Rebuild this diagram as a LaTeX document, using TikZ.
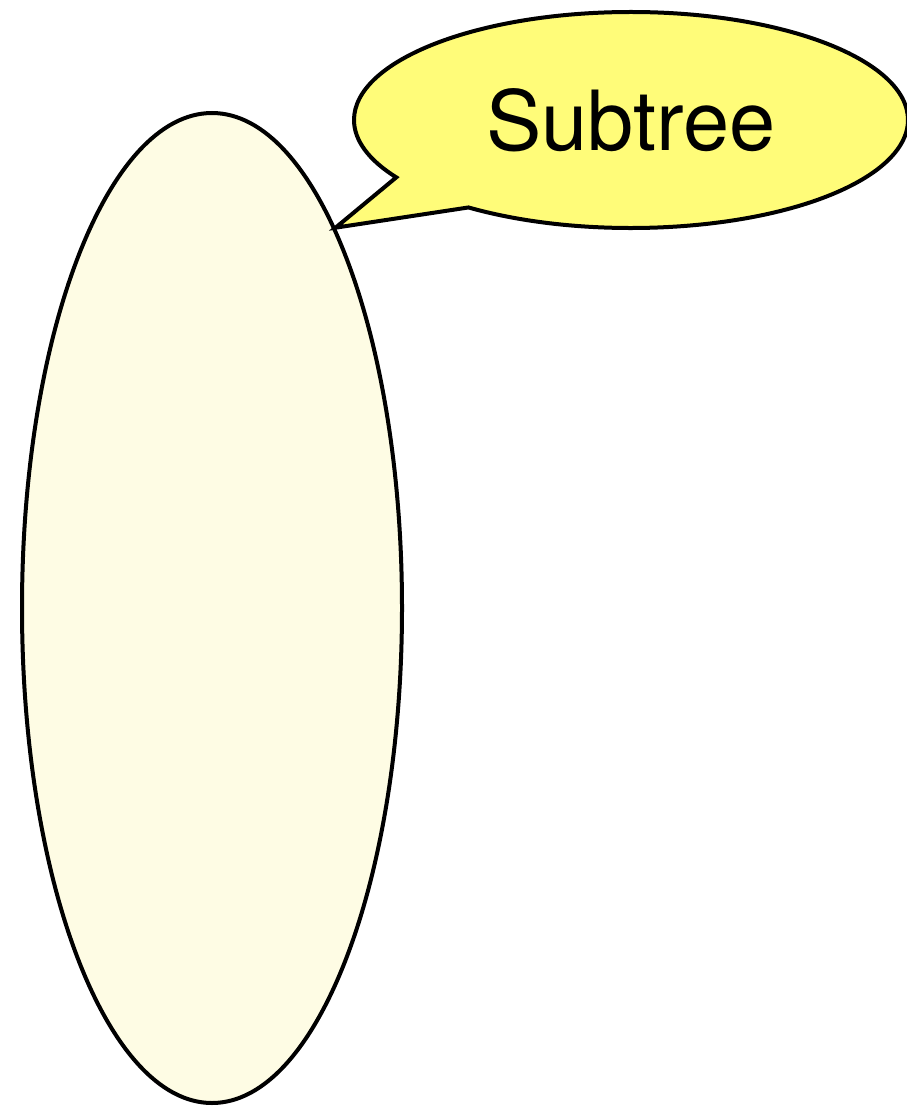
\documentclass[tikz,border=0pt]{standalone}
\usepackage{fontspec}
\setsansfont{TeX Gyre Heros}
\usetikzlibrary{shapes.geometric,shapes.callouts}

\definecolor{treefill}{RGB}{254,252,228}
\definecolor{bubblefill}{RGB}{255,252,121}

\begin{document}
\begin{tikzpicture}[x=1pt, y=-1pt]
    \useasboundingbox (0,0) rectangle (906,1107);

    \tikzset{
        subtree/.style={ellipse, draw=black, line width=4pt, fill=treefill,
            minimum width=380pt, minimum height=990pt, inner sep=0pt},
        bubble/.style={ellipse callout, draw=black, line width=4pt, fill=bubblefill,
            minimum width=554pt, minimum height=216pt, inner sep=0pt,
            callout pointer arc=22, font=\sffamily\fontsize{83}{96}\selectfont}
    }

    % the subtree
    \node[subtree] (tree) at (212,608) {};

    % label bubble pointing at it
    \node[bubble, callout absolute pointer={(tree.72)}] (label) at (631,120) {Subtree};
\end{tikzpicture}
\end{document}
